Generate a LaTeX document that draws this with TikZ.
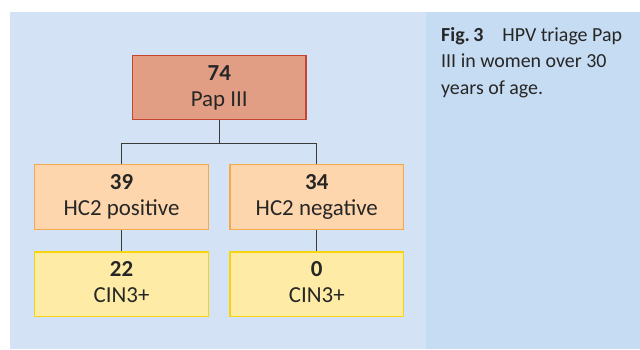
\documentclass[tikz,border=0pt]{standalone}
\usepackage{fontspec}
\setmainfont{Carlito}
\definecolor{panelL}{HTML}{D3E2F4}
\definecolor{panelR}{HTML}{C6DCF2}
\definecolor{txt}{HTML}{262626}
\definecolor{redfill}{HTML}{E19E84}
\definecolor{reddraw}{HTML}{C6452F}
\definecolor{orfill}{HTML}{FDD6AD}
\definecolor{ordraw}{HTML}{F6A84B}
\definecolor{yefill}{HTML}{FEECA6}
\definecolor{yedraw}{HTML}{F7D411}
\definecolor{linec}{HTML}{3A3A3A}
\begin{document}
\begin{tikzpicture}[x=1bp,y=-1bp,
  box/.style={minimum width=173.5bp, minimum height=64.5bp, inner sep=0pt,
    line width=1.3bp, align=center, text=txt,
    font=\fontsize{23}{26}\selectfont},
  redbox/.style={box, fill=redfill, draw=reddraw},
  orbox/.style={box, fill=orfill, draw=ordraw},
  yebox/.style={box, fill=yefill, draw=yedraw},
  conn/.style={draw=linec, line width=1bp},
  captext/.style={anchor=base west, inner sep=0pt, text=txt,
    font=\fontsize{20}{26}\selectfont}]
\useasboundingbox (0,0) rectangle (640,349);
\fill[white] (0,0) rectangle (640,349);
\fill[panelL] (10,12) rectangle (426,349);
\fill[panelR] (426,12) rectangle (640,349);

\node[redbox] (pap) at (219.3,87.5) {\textbf{74}\vphantom{Ap}\\Pap III\vphantom{Ap}};
\node[orbox] (pos) at (121.5,197) {\textbf{39}\vphantom{Ap}\\HC2 positive\vphantom{Ap}};
\node[orbox] (neg) at (316.8,197) {\textbf{34}\vphantom{Ap}\\HC2 negative\vphantom{Ap}};
\node[yebox] (cinpos) at (121.5,284.2) {\textbf{22}\vphantom{Ap}\\CIN3+\vphantom{Ap}};
\node[yebox] (cinneg) at (316.8,284.2) {\textbf{0}\vphantom{Ap}\\CIN3+\vphantom{Ap}};

\draw[conn] (pap.south) -- ++(0,23) -| (pos.north);
\draw[conn] (pap.south) -- ++(0,23) -| (neg.north);
\draw[conn] (pos.south) -- (cinpos.north);
\draw[conn] (neg.south) -- (cinneg.north);

\node[captext] (cap1) at (441,41) {\textbf{Fig.\,3}\hspace{0.95em}HPV triage Pap};
\node[captext] (cap2) at (441,67.5) {III in women over 30};
\node[captext] (cap3) at (441,94) {years of age.};
\end{tikzpicture}
\end{document}
